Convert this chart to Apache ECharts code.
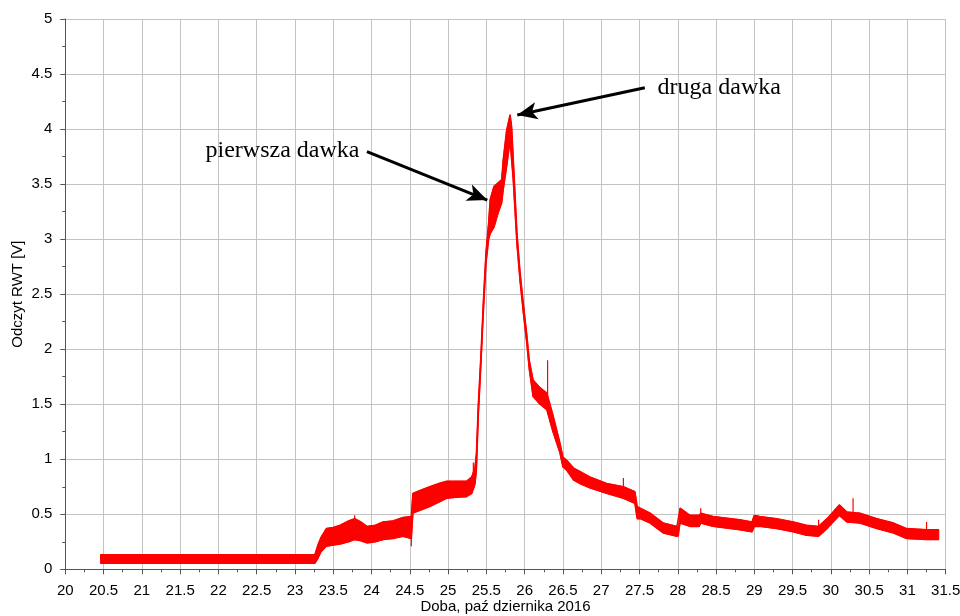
<!DOCTYPE html>
<html>
<head>
<meta charset="utf-8">
<script src="https://cdn.jsdelivr.net/npm/echarts@6/dist/echarts.min.js"></script>
<style>html,body{margin:0;padding:0;background:#fff}#c{width:960px;height:616px}</style>
</head>
<body>
<div id="c"></div>
<script>
// Envelope of the noisy RWT signal: day, lower edge, upper edge [V]
const dayX  = [20.46,23.26,23.30,23.34,23.41,23.50,23.59,23.70,23.78,23.86,23.94,24.05,24.15,24.28,24.41,24.52,24.54,24.65,24.76,24.88,24.98,25.10,25.24,25.31,25.35,25.37,25.395,25.43,25.46,25.495,25.53,25.55,25.60,25.65,25.70,25.72,25.765,25.81,25.83,25.85,25.875,25.90,25.94,25.98,26.03,26.06,26.11,26.20,26.29,26.37,26.46,26.50,26.55,26.64,26.72,26.85,27.07,27.29,27.44,27.47,27.51,27.64,27.81,27.99,28.01,28.03,28.16,28.28,28.30,28.46,28.81,28.97,29.00,29.07,29.29,29.51,29.68,29.84,29.95,30.11,30.21,30.38,30.60,30.82,30.99,31.25,31.41];
const lowV  = [0.055,0.055,0.10,0.16,0.21,0.22,0.23,0.25,0.27,0.26,0.24,0.25,0.27,0.28,0.30,0.28,0.51,0.54,0.57,0.61,0.645,0.655,0.66,0.69,0.77,0.90,1.40,1.88,2.33,2.78,3.00,3.05,3.11,3.23,3.33,3.45,3.66,3.90,3.72,3.55,3.25,2.95,2.62,2.35,2.04,1.82,1.57,1.50,1.45,1.25,1.06,0.93,0.90,0.81,0.78,0.74,0.69,0.645,0.60,0.46,0.46,0.42,0.33,0.30,0.30,0.42,0.39,0.39,0.42,0.39,0.36,0.34,0.39,0.39,0.37,0.34,0.31,0.30,0.37,0.49,0.43,0.42,0.37,0.33,0.28,0.27,0.27];
const highV = [0.133,0.133,0.22,0.29,0.37,0.38,0.40,0.44,0.46,0.43,0.39,0.40,0.43,0.44,0.47,0.48,0.69,0.72,0.75,0.78,0.80,0.80,0.80,0.84,0.92,1.05,1.50,1.96,2.42,2.88,3.15,3.36,3.48,3.51,3.54,3.72,3.99,4.13,4.02,3.75,3.40,3.05,2.70,2.43,2.12,1.90,1.72,1.65,1.60,1.40,1.15,1.02,0.99,0.92,0.89,0.84,0.78,0.75,0.705,0.57,0.555,0.51,0.42,0.39,0.39,0.555,0.49,0.49,0.51,0.48,0.45,0.43,0.49,0.48,0.46,0.43,0.40,0.39,0.46,0.585,0.52,0.51,0.46,0.42,0.37,0.36,0.36];
// Isolated spikes: day, from, to [V]
const spikeX    = [23.78,24.52,25.33,26.30,27.29,28.30,29.84,30.29,31.25];
const spikeLow  = [0.40,0.21,0.80,1.55,0.72,0.48,0.36,0.48,0.33];
const spikeHigh = [0.49,0.30,0.97,1.90,0.83,0.555,0.45,0.645,0.43];
// Axis ticks
const xTicks = {min:20, max:31.5, step:0.5};
const yTicks = {min:0, max:5, step:0.5};
// Annotations (data coordinates)
const noteNames = ['pierwsza dawka','druga dawka'];
const noteAt    = [[21.825,3.80],[27.73,4.38]];
const arrowFrom = [[23.94,3.794],[27.57,4.375]];
const arrowTo   = [[25.512,3.355],[25.904,4.128]];

const upperData = dayX.map((x,i)=>[x, highV[i]]);
const lowerData = dayX.map((x,i)=>[x, lowV[i]]);
const spikeData = spikeX.map((x,i)=>[x, spikeLow[i], spikeHigh[i]]);

const chart = echarts.init(document.getElementById('c'), null, {renderer:'canvas'});
const axisCol = '#555';
const labelFont = {color:'#000', fontFamily:'Liberation Sans', fontSize:15};
chart.setOption({
  animation:false,
  backgroundColor:'#fff',
  grid:{left:65.3, right:14.3, top:19, bottom:46.7, containLabel:false, outerBoundsMode:'none'},
  xAxis:{
    type:'value', min:xTicks.min, max:xTicks.max, interval:xTicks.step,
    name:'Doba, paź dziernika 2016', nameLocation:'middle', nameGap:30, nameMoveOverlap:false,
    nameTextStyle:labelFont,
    axisLine:{show:true, onZero:false, lineStyle:{color:axisCol, width:1}},
    axisTick:{show:true, length:5, lineStyle:{color:axisCol}},
    minorTick:{show:true, splitNumber:2, length:3, lineStyle:{color:axisCol}},
    axisLabel:Object.assign({margin:14, showMaxLabel:true, showMinLabel:true}, labelFont),
    splitLine:{show:true, lineStyle:{color:'#c3c3c3', width:1}}
  },
  yAxis:{
    type:'value', min:yTicks.min, max:yTicks.max, interval:yTicks.step,
    name:'Odczyt RWT [V]', nameLocation:'middle', nameGap:40, nameMoveOverlap:false,
    nameTextStyle:labelFont,
    axisLine:{show:true, lineStyle:{color:axisCol, width:1}},
    axisTick:{show:true, length:5, lineStyle:{color:axisCol}},
    minorTick:{show:true, splitNumber:2, length:3, lineStyle:{color:axisCol}},
    axisLabel:Object.assign({margin:13}, labelFont),
    splitLine:{show:true, lineStyle:{color:'#c3c3c3', width:1}}
  },
  series:[
    {
      type:'custom', name:'band', z:2,
      data:[[dayX[0], lowV[0]]],
      renderItem:function(params, api){
        const pts = [];
        for (let i=0;i<dayX.length;i++) pts.push(api.coord([dayX[i], highV[i]]));
        for (let i=dayX.length-1;i>=0;i--) pts.push(api.coord([dayX[i], lowV[i]]));
        return {type:'polygon', shape:{points:pts}, style:{fill:'#ff0000', stroke:'#ff0000', lineWidth:1}};
      }
    },
    {
      type:'line', name:'upper', data:upperData, symbol:'none', z:3,
      lineStyle:{color:'#ff0000', width:1.5}, itemStyle:{color:'#ff0000'},
      markLine:{
        silent:true, symbol:['none','arrow'], symbolSize:[13,20],
        label:{show:false},
        lineStyle:{color:'#000', width:3, type:'solid'},
        data:arrowFrom.map((f,i)=>[{coord:f},{coord:arrowTo[i]}]),
        z:10
      },
      markPoint:{
        silent:true, symbol:'circle', symbolSize:1,
        itemStyle:{color:'rgba(0,0,0,0)'},
        label:{show:true, position:'right', distance:0, formatter:'{b}', color:'#000', fontFamily:'Liberation Serif', fontSize:24},
        data:noteNames.map((n,i)=>({name:n, coord:noteAt[i]})),
        z:10
      }
    },
    {
      type:'line', name:'lower', data:lowerData, symbol:'none', z:3,
      lineStyle:{color:'#ff0000', width:1.5}
    },
    {
      type:'custom', name:'spikes', z:3,
      data:spikeData,
      encode:{x:0, y:[1,2]},
      renderItem:function(params, api){
        const a = api.coord([api.value(0), api.value(1)]);
        const b = api.coord([api.value(0), api.value(2)]);
        return {type:'line', shape:{x1:a[0], y1:a[1], x2:b[0], y2:b[1]}, style:{stroke:'#ff0000', lineWidth:1.2}};
      }
    }
  ]
});
</script>
</body>
</html>
